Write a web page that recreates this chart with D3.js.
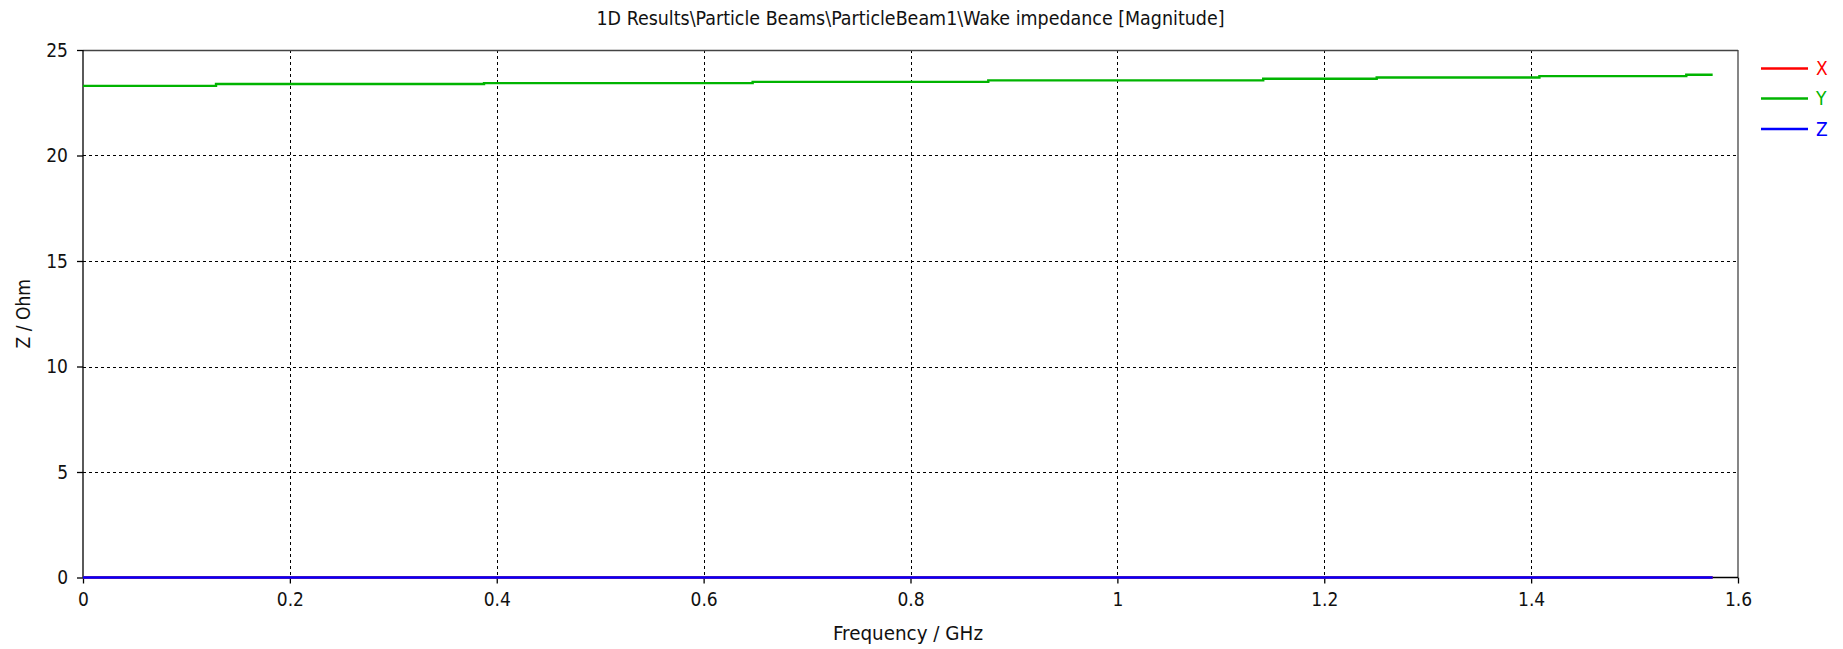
<!DOCTYPE html>
<html>
<head>
<meta charset="utf-8">
<script src="https://cdn.jsdelivr.net/npm/d3@7/dist/d3.min.js"></script>
<style>
  html, body { margin: 0; padding: 0; background: #fff; }
  svg { display: block; }
  text { font-family: "DejaVu Sans Condensed", "DejaVu Sans", sans-serif; }
</style>
</head>
<body>
<svg id="chart" width="1843" height="649"></svg>
<script>
// ---- data ----
const titleText = "1D Results\\Particle Beams\\ParticleBeam1\\Wake impedance [Magnitude]";
const xLabel = "Frequency / GHz";
const yLabel = "Z / Ohm";
const xTicks = [0, 0.2, 0.4, 0.6, 0.8, 1, 1.2, 1.4, 1.6];
const yTicks = [0, 5, 10, 15, 20, 25];
const seriesNames = ["X", "Y", "Z"];
const seriesColors = ["#ff0000", "#00b400", "#0000ff"];
// Y magnitude: frequency breakpoints (GHz) and values (Ohm), step-wise
const yFreq = [0, 0.1286, 0.3877, 0.6474, 0.8752, 1.141, 1.2507, 1.408, 1.550, 1.5755];
const yVals = [23.30, 23.39, 23.43, 23.49, 23.56, 23.64, 23.70, 23.76, 23.83, 23.83];
// X and Z magnitudes: essentially zero over the band
const xFreq = [0, 1.5755];
const xVals = [0, 0];
const zFreq = [0, 1.5755];
const zVals = [0, 0];

// ---- layout ----
const svg = d3.select("#chart");
const pL = 83, pR = 1738, pT = 50, pB = 577.5;
const x = d3.scaleLinear().domain([0, 1.6]).range([pL, pR]);
const y = d3.scaleLinear().domain([0, 25]).range([pB, pT]);
const FS = 19;

// grid
svg.append("g").selectAll("line").data(xTicks.filter(t => t > 0 && t < 1.6)).join("line")
  .attr("x1", d => Math.round(x(d)) + 0.5).attr("x2", d => Math.round(x(d)) + 0.5)
  .attr("y1", pT).attr("y2", pB)
  .attr("stroke", "#000").attr("stroke-width", 1).attr("stroke-dasharray", "3,3");
svg.append("g").selectAll("line").data(yTicks.filter(t => t > 0 && t < 25)).join("line")
  .attr("x1", pL).attr("x2", pR)
  .attr("y1", d => Math.round(y(d)) + 0.5).attr("y2", d => Math.round(y(d)) + 0.5)
  .attr("stroke", "#000").attr("stroke-width", 1).attr("stroke-dasharray", "3,3");

// frame: top/right gray
svg.append("line").attr("x1", pL).attr("x2", pR).attr("y1", pT + 0.5).attr("y2", pT + 0.5)
  .attr("stroke", "#444").attr("stroke-width", 1.3);
svg.append("line").attr("x1", pR).attr("x2", pR).attr("y1", pT).attr("y2", pB)
  .attr("stroke", "#444").attr("stroke-width", 1.3);

// axes
const xAxis = d3.axisBottom(x).tickValues(xTicks).tickSize(6).tickPadding(6)
  .tickFormat(d => d3.format("~g")(d));
const gx = svg.append("g").attr("transform", `translate(0,${pB})`).call(xAxis);
gx.select(".domain").attr("stroke", "#000").attr("stroke-width", 1.3).attr("d", `M${pL},0H${pR}`);
gx.selectAll(".tick line").attr("stroke", "#000").attr("stroke-width", 1.3);
gx.selectAll(".tick text").attr("font-size", FS).attr("fill", "#111").attr("dy", "0.85em");
gx.attr("font-family", null);

const yAxis = d3.axisLeft(y).tickValues(yTicks).tickSize(6).tickPadding(9)
  .tickFormat(d => d3.format("~g")(d));
const gy = svg.append("g").attr("transform", `translate(${pL},0)`).call(yAxis);
gy.select(".domain").attr("stroke", "#000").attr("stroke-width", 1.3).attr("d", `M0,${pT}V${pB}`);
gy.selectAll(".tick line").attr("stroke", "#000").attr("stroke-width", 1.3);
gy.selectAll(".tick text").attr("font-size", FS).attr("fill", "#111");
gy.attr("font-family", null);

// series
const line = d3.line().x(d => x(d[0])).y(d => y(d[1])).curve(d3.curveStepAfter);
const series = [
  xFreq.map((f, i) => [f, xVals[i]]),
  yFreq.map((f, i) => [f, yVals[i]]),
  zFreq.map((f, i) => [f, zVals[i]])
];
series.forEach((s, i) => {
  svg.append("path").datum(s).attr("d", line)
    .attr("fill", "none").attr("stroke", seriesColors[i]).attr("stroke-width", 2.4);
});

// title
svg.append("text").attr("x", (pL + pR) / 2).attr("y", 25)
  .attr("text-anchor", "middle").attr("font-size", FS).attr("fill", "#111")
  .attr("textLength", 628).attr("lengthAdjust", "spacingAndGlyphs")
  .text(titleText);

// axis labels
svg.append("text").attr("x", 908).attr("y", 640)
  .attr("text-anchor", "middle").attr("font-size", FS).attr("fill", "#111")
  .attr("textLength", 150).attr("lengthAdjust", "spacingAndGlyphs")
  .text(xLabel);
svg.append("text").attr("transform", `translate(30,${(pT + pB) / 2}) rotate(-90)`)
  .attr("text-anchor", "middle").attr("font-size", FS).attr("fill", "#111")
  .text(yLabel);

// legend
const lg = svg.append("g");
seriesNames.forEach((n, i) => {
  const ly = [68.5, 98.5, 129][i];
  lg.append("line").attr("x1", 1761).attr("x2", 1808).attr("y1", ly).attr("y2", ly)
    .attr("stroke", seriesColors[i]).attr("stroke-width", 2.4);
  lg.append("text").attr("x", 1816).attr("y", ly).attr("dy", "0.36em")
    .attr("font-size", FS).attr("fill", seriesColors[i]).text(n);
});
</script>
</body>
</html>
